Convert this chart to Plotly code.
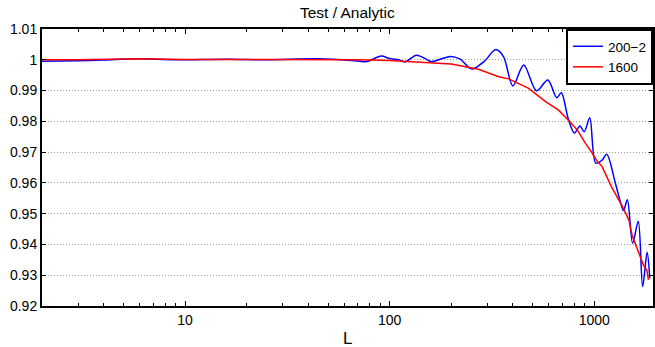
import numpy as np
import plotly.graph_objects as go

# ---- data ----
blue_L = [2, 3, 4, 5.8, 9, 16, 25, 45, 65, 77, 91, 100, 111, 119, 135, 150, 160,
          198, 220, 252, 290, 330, 360, 400, 452, 522, 593, 655, 690, 746, 800,
          850, 893, 950, 1017, 1092, 1150, 1268, 1340, 1389, 1450, 1540, 1640,
          1723, 1812, 1866]
blue_v = [0.9995, 0.9997, 0.9999, 1.0003, 1.0000, 1.0002, 1.0000, 1.0003, 0.9998,
          0.9994, 1.0012, 1.0004, 1.0000, 0.9993, 1.0015, 1.0003, 0.9994,
          1.0011, 1.0003, 0.9970, 0.9995, 1.0033, 1.0010, 0.9915, 0.9983, 0.9899,
          0.9934, 0.9877, 0.9893, 0.9808, 0.9762, 0.9785, 0.9766, 0.9812, 0.9664,
          0.9674, 0.9693, 0.9599, 0.9539, 0.9510, 0.9545, 0.9404, 0.9475, 0.9263,
          0.9375, 0.9290]

red_L = [2, 3, 6, 10, 20, 40, 50, 70, 100, 150, 200, 272, 341, 382, 478, 578,
         667, 772, 830, 904, 968, 1023, 1092, 1212, 1361, 1475, 1530, 1640,
         1738, 1806, 1839]
red_v = [1.0000, 1.0000, 1.0003, 1.0001, 1.0001, 1.0001, 1.0002, 1.0000, 0.9998,
         0.9992, 0.9986, 0.9969, 0.9945, 0.9938, 0.9907, 0.9864, 0.9837, 0.9794,
         0.9770, 0.9729, 0.9701, 0.9674, 0.9653, 0.9588, 0.9528, 0.9480, 0.9430,
         0.9377, 0.9333, 0.9317, 0.9285]

series_names = ["200\u22122", "1600"]
y_ticks = [1.01, 1.00, 0.99, 0.98, 0.97, 0.96, 0.95, 0.94, 0.93, 0.92]
y_ticktext = ["1.01", "1", "0.99", "0.98", "0.97", "0.96", "0.95", "0.94", "0.93", "0.92"]
x_major = [10, 100, 1000]
x_minor = [2, 3, 4, 5, 6, 7, 8, 9, 20, 30, 40, 50, 60, 70, 80, 90,
           200, 300, 400, 500, 600, 700, 800, 900]

FONT = "Liberation Sans, Arial, Helvetica, sans-serif"

fig = go.Figure()
fig.add_trace(go.Scatter(x=blue_L, y=blue_v, mode="lines", name=series_names[0],
                         line=dict(color="#0000ff", width=1.5, shape="spline", smoothing=0.9)))
fig.add_trace(go.Scatter(x=red_L, y=red_v, mode="lines", name=series_names[1],
                         line=dict(color="#ff0000", width=1.5)))

fig.update_layout(
    width=655, height=347,
    margin=dict(l=42, r=0, t=29, b=41),
    paper_bgcolor="white", plot_bgcolor="white",
    font=dict(family=FONT, size=14, color="black"),
    showlegend=True,
    legend=dict(x=1, xanchor="right", y=1, yanchor="top",
                bgcolor="white", bordercolor="black", borderwidth=2,
                font=dict(size=13.5), itemwidth=30, tracegroupgap=4),
    annotations=[
        dict(text="Test / Analytic", x=0.5, xref="paper", y=1 + 17 / 277, yref="paper",
             yanchor="middle", xanchor="center", showarrow=False, font=dict(size=15.5)),
        dict(text="L", x=0.5, xref="paper", y=-32 / 277, yref="paper",
             yanchor="middle", xanchor="center", showarrow=False, font=dict(size=17)),
    ],
)

fig.update_xaxes(
    type="log", range=[np.log10(2), np.log10(1936)],
    tickmode="array", tickvals=x_major, ticktext=[str(v) for v in x_major],
    ticks="inside", ticklen=5, tickwidth=1, tickcolor="black",
    showline=True, linecolor="black", linewidth=2, mirror="ticks",
    showgrid=False, zeroline=False,
    minor=dict(tickmode="array", tickvals=x_minor, ticks="inside", ticklen=3,
               tickwidth=1, tickcolor="black", showgrid=False),
    tickfont=dict(size=14),
)
fig.update_yaxes(
    range=[0.92, 1.01],
    tickmode="array", tickvals=y_ticks, ticktext=y_ticktext,
    ticks="inside", ticklen=4, tickwidth=1, tickcolor="black",
    showline=True, linecolor="black", linewidth=2, mirror="ticks",
    showgrid=True, gridcolor="#9a9a9a", griddash="1px,2px", gridwidth=1,
    zeroline=False, tickfont=dict(size=14),
)

fig.write_html("out.html")
